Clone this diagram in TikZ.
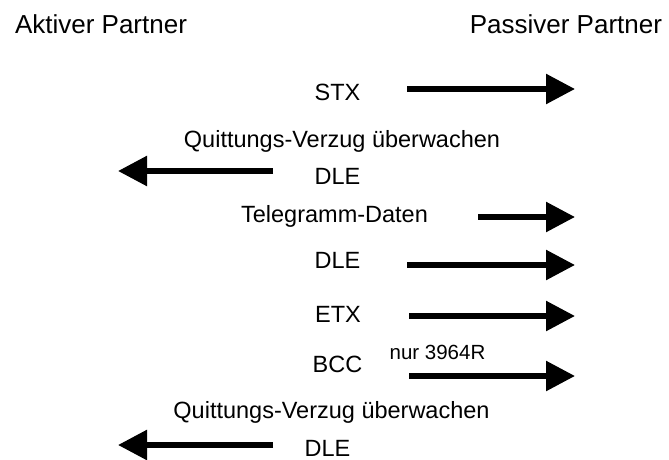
\documentclass[tikz,border=0pt]{standalone}
\usepackage{fontspec}
\setmainfont{Liberation Sans}
\usetikzlibrary{arrows.meta}

\begin{document}
\begin{tikzpicture}[
    x=1pt, y=-1pt,
    every node/.style={inner sep=0pt, outer sep=0pt},
    partner/.style={font=\fontsize{26}{30}\selectfont, anchor=base},
    msglabel/.style={font=\fontsize{23.5}{28}\selectfont, anchor=base},
    msgnote/.style={font=\fontsize{20.5}{24}\selectfont, anchor=base},
    msgarrow/.style={
        -{Triangle[length=29pt, width=29pt]}, line width=5.6pt
    },
]
\useasboundingbox (0,0) rectangle (669,460);

% ===== Partner headings =====
\node[partner, anchor=base west] (act) at (15,34) {Aktiver Partner};
\node[partner, anchor=base east] (pas) at (662,34) {Passiver Partner};

% ===== Telegram labels =====
\node[msglabel] (stx)   at (337.5,100) {STX};
\node[msglabel] (quit1) at (342,147)   {Quittungs-Verzug überwachen};
\node[msglabel] (dle1)  at (337.5,184) {DLE};
\node[msglabel] (tel)   at (334.5,222) {Telegramm-Daten};
\node[msglabel] (dle2)  at (337.5,268) {DLE};
\node[msglabel] (etx)   at (338,322)   {ETX};
\node[msglabel] (bcc)   at (337.5,372) {BCC};
\node[msgnote]  (nur)   at (437.5,359) {nur 3964R};
\node[msglabel] (quit2) at (331.5,418) {Quittungs-Verzug überwachen};
\node[msglabel] (dle3)  at (327.5,456) {DLE};

% ===== Arrow end points =====
\coordinate (stxA) at (407,89);   \coordinate (stxB) at (575,89);
\coordinate (dle1A) at (273,171); \coordinate (dle1B) at (118,171);
\coordinate (telA) at (478,217);  \coordinate (telB) at (575,217);
\coordinate (dle2A) at (407,265); \coordinate (dle2B) at (575,265);
\coordinate (etxA) at (409,316);  \coordinate (etxB) at (575,316);
\coordinate (bccA) at (409,376);  \coordinate (bccB) at (575,376);
\coordinate (dle3A) at (273,445); \coordinate (dle3B) at (118,445);

% ===== Arrows: Aktiv -> Passiv =====
\draw[msgarrow] (stxA) -- (stxB);
\draw[msgarrow] (telA) -- (telB);
\draw[msgarrow] (dle2A) -- (dle2B);
\draw[msgarrow] (etxA) -- (etxB);
\draw[msgarrow] (bccA) -- (bccB);

% ===== Arrows: Passiv -> Aktiv =====
\draw[msgarrow] (dle1A) -- (dle1B);
\draw[msgarrow] (dle3A) -- (dle3B);

\end{tikzpicture}
\end{document}
